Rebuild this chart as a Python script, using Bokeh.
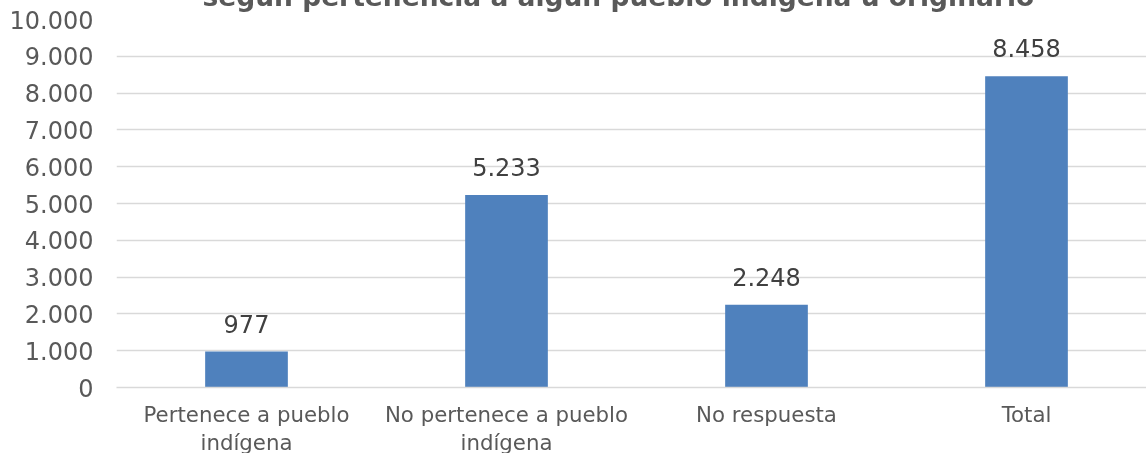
from bokeh.plotting import figure
from bokeh.models import ColumnDataSource, CustomJSTickFormatter, SingleIntervalTicker, Range1d, CategoricalAxis
from bokeh.core.properties import value
from bokeh.embed import file_html
from bokeh.resources import INLINE

categories = ["Pertenece a pueblo indígena", "No pertenece a pueblo indígena", "No respuesta", "Total"]
label_line1 = ["Pertenece a pueblo", "No pertenece a pueblo", "No respuesta", "Total"]
label_line2 = ["indígena", "indígena", "", ""]
values = [977, 5233, 2248, 8458]
title_text = "según pertenencia a algún pueblo indígena u originario"

def fmt(v):
    return f"{v:,}".replace(",", ".")

src = ColumnDataSource(dict(cat=categories, val=values, lbl=[fmt(v) for v in values]))

p = figure(x_range=categories, y_range=Range1d(0, 10000), width=1150, height=490,
           output_backend="svg", toolbar_location=None,
           min_border_left=109, min_border_right=0, min_border_top=49, min_border_bottom=73,
           styles={"position": "fixed", "top": "-30px", "left": "6px"})

p.title.text = title_text
p.title.text_font = "DejaVu Sans"
p.title.text_font_size = "26.5px"
p.title.text_font_style = "bold"
p.title.text_color = "#595959"
p.title.align = "left"
p.title.offset = 86
p.title.standoff = 16

p.vbar(x="cat", top="val", width=0.318, source=src, color="#4f81bd", line_color=None)
p.text(x="cat", y="val", text="lbl", source=src, text_align="center", text_baseline="alphabetic",
       y_offset=-28, text_font=value("DejaVu Sans"), text_font_size="24px", text_color="#404040")

p.outline_line_color = None
p.xgrid.grid_line_color = None
p.ygrid.grid_line_color = "#d9d9d9"
p.ygrid.grid_line_width = 1.3

p.yaxis.ticker = SingleIntervalTicker(interval=1000)
p.yaxis.formatter = CustomJSTickFormatter(code="return tick.toFixed(0).replace(/\\B(?=(\\d{3})+(?!\\d))/g, '.');")
p.yaxis.axis_line_color = None
p.yaxis.major_tick_line_color = None
p.yaxis.major_tick_out = 0
p.yaxis.major_tick_in = 0
p.yaxis.minor_tick_line_color = None
p.yaxis.major_label_text_font = "DejaVu Sans"
p.yaxis.major_label_text_font_size = "24px"
p.yaxis.major_label_text_color = "#595959"
p.yaxis.major_label_standoff = 19

line1_map = dict(zip(categories, label_line1))
line2_map = dict(zip(categories, label_line2))

xa = p.xaxis[0]
xa.formatter = CustomJSTickFormatter(args=dict(m=line1_map), code="return m[tick];")
xa.axis_line_color = "#d9d9d9"
xa.axis_line_width = 1.3
xa.major_tick_line_color = None
xa.major_tick_out = 0
xa.major_tick_in = 0
xa.minor_tick_line_color = None
xa.major_label_text_font = "DejaVu Sans"
xa.major_label_text_font_size = "21.3px"
xa.major_label_text_color = "#595959"
xa.major_label_standoff = 14

xa2 = CategoricalAxis(formatter=CustomJSTickFormatter(args=dict(m=line2_map), code="return m[tick];"),
                      axis_line_color=None, major_tick_line_color=None, major_tick_out=0, major_tick_in=0,
                      minor_tick_line_color=None, major_label_text_font="DejaVu Sans",
                      major_label_text_font_size="21.3px", major_label_text_color="#595959",
                      major_label_standoff=0)
p.add_layout(xa2, "below")

open("out.html", "w").write(file_html(p, INLINE))
